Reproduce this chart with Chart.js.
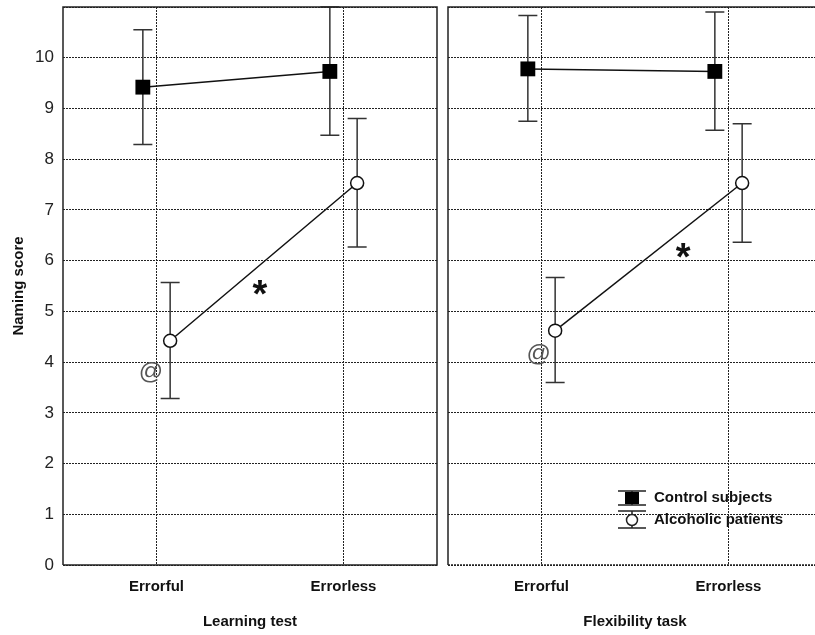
<!DOCTYPE html>
<html>
<head>
<meta charset="utf-8">
<script src="https://cdn.jsdelivr.net/npm/chart.js@4/dist/chart.umd.min.js"></script>
<style>
  html, body { margin: 0; padding: 0; background: #fff; overflow: hidden; }
  #wrap { position: relative; width: 815px; height: 635px; overflow: hidden; }
  .panel { position: absolute; top: 0; height: 635px; }
  #leftBox { left: 0; width: 440px; }
  #rightBox { left: 446px; width: 376px; }
</style>
</head>
<body>
<div id="wrap">
  <div class="panel" id="leftBox"><canvas id="learnChart"></canvas></div>
  <div class="panel" id="rightBox"><canvas id="flexChart"></canvas></div>
</div>
<script>
// categories and x positions on the linear axis
const conditions = ["Errorful", "Errorless"];
const condPos = [0.5, 1.5];
const groupShift = 0.073; // controls left of gridline, patients right

// Learning test
const learnControl = [9.42, 9.73];
const learnControlLo = [8.29, 8.47];
const learnControlHi = [10.55, 11.0];
const learnAlcohol = [4.42, 7.53];
const learnAlcoholLo = [3.28, 6.27];
const learnAlcoholHi = [5.57, 8.8];

// Flexibility task
const flexControl = [9.78, 9.73];
const flexControlLo = [8.75, 8.57];
const flexControlHi = [10.83, 10.9];
const flexAlcohol = [4.62, 7.53];
const flexAlcoholLo = [3.6, 6.36];
const flexAlcoholHi = [5.67, 8.7];

const yTicks = [0, 1, 2, 3, 4, 5, 6, 7, 8, 9, 10];

// annotation marks (x in axis units, y in score units)
const learnMarks = [{ text: "@", x: 0.47, y: 3.8 }, { text: "*", x: 1.053, y: 5.48 }];
const flexMarks = [{ text: "@", x: 0.485, y: 4.16 }, { text: "*", x: 1.257, y: 6.21 }];

const FONT = "'Liberation Sans', Arial, sans-serif";
const INK = "#111";

function toPoints(values, shift) {
  return values.map((v, i) => ({ x: condPos[i] + shift, y: v }));
}

// error bars, frame, annotations and legend drawn through the chart scales
function makeDecor(opts) {
  return {
    id: "decor",
    beforeDatasetsDraw(chart) {
      const { ctx, scales: { x, y } } = chart;
      ctx.save();
      ctx.strokeStyle = "#333";
      ctx.lineWidth = 1.5;
      opts.bars.forEach((b) => {
        b.lo.forEach((lo, i) => {
          const px = x.getPixelForValue(condPos[i] + b.shift);
          const y1 = y.getPixelForValue(lo);
          const y2 = y.getPixelForValue(b.hi[i]);
          ctx.beginPath();
          ctx.moveTo(px, y1); ctx.lineTo(px, y2);
          ctx.moveTo(px - 9.5, y1); ctx.lineTo(px + 9.5, y1);
          ctx.moveTo(px - 9.5, y2); ctx.lineTo(px + 9.5, y2);
          ctx.stroke();
        });
      });
      ctx.restore();
    },
    afterDraw(chart) {
      const { ctx, chartArea: a, scales: { x, y } } = chart;
      ctx.save();
      // frame
      ctx.strokeStyle = "#222";
      ctx.lineWidth = 1.5;
      ctx.beginPath();
      ctx.moveTo(a.left, a.bottom);
      ctx.lineTo(a.left, a.top);
      ctx.lineTo(a.right, a.top);
      ctx.lineTo(a.right, a.bottom);
      if (!opts.dottedBottom) ctx.lineTo(a.left, a.bottom);
      ctx.stroke();
      if (opts.dottedBottom) {
        ctx.setLineDash([2, 1]);
        ctx.beginPath();
        ctx.moveTo(a.left, a.bottom);
        ctx.lineTo(a.right, a.bottom);
        ctx.stroke();
        ctx.setLineDash([]);
      }
      // annotations
      ctx.textAlign = "center";
      ctx.textBaseline = "middle";
      opts.marks.forEach((m) => {
        const px = x.getPixelForValue(m.x);
        const py = y.getPixelForValue(m.y);
        if (m.text === "*") {
          ctx.fillStyle = INK;
          ctx.font = "bold 38px " + FONT;
          ctx.fillText(m.text, px, py + 10);
        } else {
          ctx.fillStyle = "#555";
          ctx.font = "24px " + FONT;
          ctx.fillText(m.text, px, py);
        }
      });
      // legend, placed from the plot's left edge
      if (opts.legend) {
        const cx = a.left + 184;
        const rows = [
          { label: "Control subjects", y: 498, top: 491, bot: 505, square: true },
          { label: "Alcoholic patients", y: 520, top: 511, bot: 528, square: false },
        ];
        ctx.strokeStyle = "#222";
        ctx.lineWidth = 1.5;
        rows.forEach((r) => {
          ctx.beginPath();
          ctx.moveTo(cx - 14, r.top); ctx.lineTo(cx + 14, r.top);
          ctx.moveTo(cx - 14, r.bot); ctx.lineTo(cx + 14, r.bot);
          ctx.moveTo(cx, r.top); ctx.lineTo(cx, r.bot);
          ctx.stroke();
          if (r.square) {
            ctx.fillStyle = "#000";
            ctx.fillRect(cx - 7, r.y - 6, 14, 12);
          } else {
            ctx.beginPath();
            ctx.arc(cx, r.y, 5.5, 0, Math.PI * 2);
            ctx.fillStyle = "#fff";
            ctx.fill();
            ctx.stroke();
          }
          ctx.fillStyle = INK;
          ctx.font = "bold 15px " + FONT;
          ctx.textAlign = "left";
          ctx.fillText(r.label, cx + 22, r.y);
        });
      }
      ctx.restore();
    },
  };
}

function buildChart(id, cfg) {
  const showY = cfg.showY;
  return new Chart(document.getElementById(id), {
    type: "line",
    data: {
      datasets: [
        {
          label: "Control subjects",
          data: toPoints(cfg.control, -groupShift),
          borderColor: INK,
          borderWidth: 1.5,
          pointStyle: "rect",
          pointRadius: 10.5,
          pointBackgroundColor: "#000",
          pointBorderColor: "#000",
          pointBorderWidth: 0,
        },
        {
          label: "Alcoholic patients",
          data: toPoints(cfg.alcohol, groupShift),
          borderColor: INK,
          borderWidth: 1.5,
          pointStyle: "circle",
          pointRadius: 6.5,
          pointBackgroundColor: "#fff",
          pointBorderColor: "#111",
          pointBorderWidth: 1.5,
        },
      ],
    },
    options: {
      responsive: true,
      maintainAspectRatio: false,
      animation: false,
      layout: {
        autoPadding: false,
        padding: { top: 7, right: cfg.padRight, left: cfg.padLeft, bottom: 0 },
      },
      plugins: { legend: { display: false }, tooltip: { enabled: false } },
      scales: {
        x: {
          type: "linear",
          min: 0,
          max: 2,
          afterBuildTicks: (s) => { s.ticks = condPos.map((v) => ({ value: v })); },
          afterFit: (s) => { s.height = 70; s.paddingLeft = 0; s.paddingRight = 0; },
          ticks: {
            callback: (v) => conditions[condPos.indexOf(v)] || "",
            font: { family: FONT, size: 15, weight: "bold" },
            color: INK,
            padding: 13,
            maxRotation: 0,
          },
          grid: { color: "#222", lineWidth: 1, drawTicks: false },
          border: { display: false, dash: [2, 1] },
          title: {
            display: true,
            text: cfg.title,
            font: { family: FONT, size: 15, weight: "bold" },
            color: INK,
            padding: { top: 0, bottom: 4 },
          },
        },
        y: {
          min: 0,
          max: 11,
          afterBuildTicks: (s) => { s.ticks = yTicks.concat([11]).map((v) => ({ value: v })); },
          afterFit: (s) => { s.width = showY ? 63 : 0; s.paddingTop = 0; s.paddingBottom = 0; },
          ticks: {
            display: showY,
            callback: (v) => (yTicks.includes(v) ? String(v) : ""),
            font: { family: FONT, size: 17 },
            color: "#222",
            padding: 9,
          },
          grid: { color: "#222", lineWidth: 1, drawTicks: false },
          border: { display: false, dash: [2, 1] },
          title: {
            display: showY,
            text: "Naming score",
            font: { family: FONT, size: 15, weight: "bold" },
            color: INK,
            padding: { top: 10, bottom: 0 },
          },
        },
      },
    },
    plugins: [makeDecor(cfg.decor)],
  });
}

buildChart("learnChart", {
  showY: true,
  padLeft: 0,
  padRight: 3,
  title: "Learning test",
  control: learnControl,
  alcohol: learnAlcohol,
  decor: {
    bars: [
      { lo: learnControlLo, hi: learnControlHi, shift: -groupShift },
      { lo: learnAlcoholLo, hi: learnAlcoholHi, shift: groupShift },
    ],
    marks: learnMarks,
    legend: false,
    dottedBottom: false,
  },
});

buildChart("flexChart", {
  showY: false,
  padLeft: 2,
  padRight: 0,
  title: "Flexibility task",
  control: flexControl,
  alcohol: flexAlcohol,
  decor: {
    bars: [
      { lo: flexControlLo, hi: flexControlHi, shift: -groupShift },
      { lo: flexAlcoholLo, hi: flexAlcoholHi, shift: groupShift },
    ],
    marks: flexMarks,
    legend: true,
    dottedBottom: true,
  },
});
</script>
</body>
</html>
